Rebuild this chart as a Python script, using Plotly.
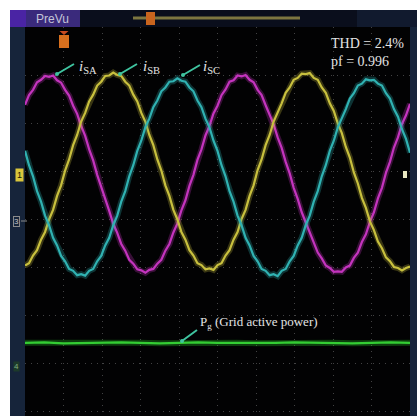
import numpy as np
import plotly.graph_objects as go

# ---- scope record (vertical values in divisions, 10 x 8 division screen) ----
# one mains cycle spans 5 horizontal divisions, sampled 48 times per cycle
SAMPLE_STEP_DIV = 5 / 48

i_sa = [2.38, 2.58, 2.69, 2.85, 2.90, 2.98, 2.96, 2.99, 2.89, 2.84, 2.69, 2.57,
        2.36, 2.19, 1.94, 1.73, 1.45, 1.22, 0.92, 0.68, 0.40, 0.17, -0.10, -0.29,
        -0.52, -0.66, -0.85, -0.93, -1.05, -1.07, -1.12, -1.06, -1.04, -0.93, -0.85, -0.66,
        -0.52, -0.28, -0.09, 0.18, 0.39, 0.69, 0.92, 1.23, 1.45, 1.74, 1.94, 2.20,
        2.36, 2.58, 2.70, 2.86, 2.89, 2.99, 2.97, 3.00, 2.90, 2.85, 2.69, 2.58,
        2.37, 2.17, 1.97, 1.70, 1.48, 1.19, 0.95, 0.65, 0.42, 0.14, -0.07, -0.32,
        -0.49, -0.70, -0.82, -0.97, -1.02, -1.10, -1.09, -1.10, -1.01, -0.97, -0.81, -0.70,
        -0.48, -0.32, -0.06, 0.14, 0.43, 0.65, 0.96, 1.19, 1.49, 1.70, 1.98, 2.16, 2.40]

i_sb = [-0.97, -0.92, -0.76, -0.65, -0.43, -0.27, -0.01, 0.19, 0.48, 0.70, 1.01, 1.24,
        1.54, 1.75, 2.03, 2.21,
        2.45, 2.59, 2.78, 2.86, 2.98, 2.99, 3.05, 3.00, 2.98, 2.86, 2.78, 2.59,
        2.45, 2.21, 2.03, 1.75, 1.54, 1.24, 1.01, 0.70, 0.48, 0.19, -0.01, -0.27,
        -0.43, -0.65, -0.76, -0.92, -0.96, -1.05, -1.03, -1.06, -0.96, -0.92, -0.76, -0.65,
        -0.43, -0.27, 0.00, 0.19, 0.48, 0.70, 1.02, 1.24, 1.54, 1.75, 2.03, 2.21,
        2.41, 2.63, 2.74, 2.90, 2.94, 3.03, 3.02, 3.04, 2.94, 2.90, 2.74, 2.63,
        2.41, 2.25, 1.99, 1.79, 1.50, 1.28, 0.97, 0.74, 0.44, 0.23, -0.05, -0.23,
        -0.47, -0.61, -0.80, -0.88, -1.00, -1.02, -1.07, -1.02, -0.99]

i_sc = [1.42, 1.12, 0.89, 0.58, 0.36, 0.07, -0.13, -0.39, -0.55, -0.77, -0.88, -1.04,
        -1.08, -1.17, -1.15, -1.18, -1.08, -1.04, -0.88, -0.77, -0.55, -0.39, -0.13, 0.07,
        0.36, 0.58, 0.89, 1.12, 1.42, 1.63, 1.91, 2.09,
        2.33, 2.47, 2.66, 2.74, 2.86, 2.87, 2.93, 2.88, 2.86, 2.74, 2.66, 2.47,
        2.33, 2.09, 1.91, 1.63, 1.42, 1.12, 0.89, 0.58, 0.36, 0.07, -0.13, -0.39,
        -0.55, -0.77, -0.88, -1.04, -1.08, -1.17, -1.15, -1.19, -1.08, -1.04, -0.88, -0.77,
        -0.55, -0.39, -0.13, 0.07, 0.36, 0.58, 0.89, 1.12, 1.42, 1.63, 1.91, 2.09,
        2.29, 2.51, 2.62, 2.78, 2.82, 2.91, 2.89, 2.90, 2.82, 2.78, 2.62, 2.51,
        2.29, 2.13, 1.87, 1.67, 1.38]

p_grid_time = [0, 0.5, 1, 1.5, 2, 2.5, 3, 3.5, 4, 4.5, 5, 5.5, 6, 6.5, 7, 7.5,
               8, 8.5, 9, 9.5, 10]
p_grid = [-2.58, -2.57, -2.59, -2.58, -2.58, -2.57, -2.58, -2.59, -2.58, -2.57, -2.58,
          -2.58, -2.59, -2.58, -2.57, -2.58, -2.58, -2.59, -2.58, -2.57, -2.58]

thd_text = "THD = 2.4%"
pf_text = "pf = 0.996"

t = np.arange(len(i_sa)) * SAMPLE_STEP_DIV

W, H = 417, 416
L, R, T, B = 25, 7, 27, 0
PW, PH = W - L - R, H - T - B


def px_x(p):
    return (p - L) / PW


def px_y(p):
    return (H - B - p) / PH


def dx(p):
    return (p - L) / 38.5


def dy(p):
    return (219 - p) / 48


fig = go.Figure()

traces = [
    (i_sa, (196, 52, 190)),
    (i_sb, (200, 192, 62)),
    (i_sc, (48, 178, 178)),
]
for ys, (r, g, b) in traces:
    fig.add_trace(go.Scatter(x=t, y=ys, mode="lines", hoverinfo="skip",
                             line=dict(color=f"rgba({r},{g},{b},0.28)", width=6)))
    fig.add_trace(go.Scatter(x=t, y=ys, mode="lines", hoverinfo="skip",
                             line=dict(color=f"rgb({r},{g},{b})", width=2.2)))

fig.add_trace(go.Scatter(x=p_grid_time, y=p_grid, mode="lines", hoverinfo="skip",
                         line=dict(color="rgba(40,200,40,0.3)", width=6)))
fig.add_trace(go.Scatter(x=p_grid_time, y=p_grid, mode="lines", hoverinfo="skip",
                         line=dict(color="rgb(52,205,52)", width=2.2)))

grid = dict(showgrid=True, gridcolor="rgba(120,120,120,0.55)", gridwidth=1,
            griddash="1px,5px", zeroline=False, showticklabels=False,
            ticks="", showline=False, fixedrange=True)

fig.update_layout(
    width=W, height=H,
    margin=dict(l=L, r=R, t=T, b=B, pad=0),
    paper_bgcolor="white",
    plot_bgcolor="#020203",
    showlegend=False,
    xaxis=dict(range=[0, 10], tick0=0, dtick=1, **grid),
    yaxis=dict(range=[-4.104, 4.0], tick0=0, dtick=1, **grid),
)

frame = "#16243a"
shapes = [
    # top status bar
    dict(x0=px_x(10), x1=px_x(417), y0=px_y(27), y1=px_y(10), fillcolor="#0a0e1c"),
    dict(x0=px_x(357), x1=px_x(417), y0=px_y(27), y1=px_y(10), fillcolor="#111a2e"),
    dict(x0=px_x(10), x1=px_x(80), y0=px_y(27), y1=px_y(10), fillcolor="#3a2a7c"),
    dict(x0=px_x(10), x1=px_x(26), y0=px_y(27), y1=px_y(10), fillcolor="#4a24a4"),
    dict(x0=px_x(133), x1=px_x(300), y0=px_y(19.5), y1=px_y(16.5), fillcolor="#7d7640"),
    dict(x0=px_x(146), x1=px_x(155), y0=px_y(25), y1=px_y(12), fillcolor="#c8641e"),
    # side strips
    dict(x0=px_x(10), x1=px_x(25), y0=px_y(416), y1=px_y(27), fillcolor=frame),
    dict(x0=px_x(410), x1=px_x(417), y0=px_y(416), y1=px_y(27), fillcolor=frame),
    # trigger position marker
    dict(x0=px_x(59), x1=px_x(69), y0=px_y(48), y1=px_y(35), fillcolor="#d8701e"),
    # trigger level marker on the right edge
    dict(x0=px_x(403), x1=px_x(407), y0=px_y(178), y1=px_y(171), fillcolor="#e8e6c0"),
]
for s in shapes:
    fig.add_shape(type="rect", xref="paper", yref="paper", line=dict(width=0), **s)

fig.add_shape(type="path", xref="paper", yref="paper", line=dict(width=0),
              fillcolor="#c84c20",
              path=f"M {px_x(59.5)},{px_y(31)} L {px_x(68.5)},{px_y(31)} "
                   f"L {px_x(64)},{px_y(35)} Z")

# short pointer from channel 3 ground marker
fig.add_shape(type="line", xref="paper", yref="paper",
              x0=px_x(21), x1=px_x(27), y0=px_y(221), y1=px_y(221),
              line=dict(color="#8a8a8a", width=1))

serif = "Liberation Serif"
txt_col = "#e4e4e4"
arrow_col = "#3fc4a0"


def pointer(head_px, tail_px):
    """Short leader line from a label down to its trace."""
    fig.add_shape(type="line", xref="x", yref="y",
                  x0=dx(head_px[0]), y0=dy(head_px[1]),
                  x1=dx(tail_px[0]), y1=dy(tail_px[1]),
                  line=dict(color=arrow_col, width=2))
    fig.add_shape(type="circle", xref="x", yref="y",
                  x0=dx(head_px[0] - 2), x1=dx(head_px[0] + 2),
                  y0=dy(head_px[1] + 2), y1=dy(head_px[1] - 2),
                  fillcolor=arrow_col, line=dict(width=0))


# phase current labels
for name, head, lab_x in [("SA", (57, 74), 77), ("SB", (120, 74), 141), ("SC", (183, 75), 201)]:
    pointer(head, (head[0] + 17, head[1] - 10))
    fig.add_annotation(x=dx(lab_x), y=dy(67), xanchor="left", yanchor="middle",
                       text=f"<i>i</i><sub>{name}</sub>", showarrow=False,
                       font=dict(family=serif, size=15, color=txt_col))

fig.add_annotation(x=dx(329), y=dy(43), xanchor="left", yanchor="middle",
                   text=thd_text, showarrow=False,
                   font=dict(family=serif, size=14, color=txt_col))
fig.add_annotation(x=dx(329), y=dy(61), xanchor="left", yanchor="middle",
                   text=pf_text, showarrow=False,
                   font=dict(family=serif, size=14, color=txt_col))

# grid power label
pointer((182, 341), (197, 330))
fig.add_annotation(x=dx(198), y=dy(322), xanchor="left", yanchor="middle",
                   text="P<sub>g</sub> (Grid active power)", showarrow=False,
                   font=dict(family=serif, size=13, color=txt_col))

# status bar text
fig.add_annotation(x=px_x(52), y=px_y(18.5), xref="paper", yref="paper",
                   xanchor="center", yanchor="middle",
                   text="PreVu", showarrow=False,
                   font=dict(family="Liberation Sans", size=12, color="#c4c4d8"))

# channel ground markers
fig.add_annotation(x=px_x(19), y=px_y(175), xref="paper", yref="paper",
                   xanchor="center", yanchor="middle",
                   text="1", showarrow=False, bgcolor="#d9c63c", borderpad=1,
                   font=dict(family="Liberation Sans", size=9, color="#202000"))
fig.add_annotation(x=px_x(16), y=px_y(221), xref="paper", yref="paper",
                   xanchor="center", yanchor="middle",
                   text="3", showarrow=False, bordercolor="#8a8a8a", borderwidth=1,
                   borderpad=0, font=dict(family="Liberation Sans", size=8, color="#c8c8c8"))
fig.add_annotation(x=px_x(16), y=px_y(366), xref="paper", yref="paper",
                   xanchor="center", yanchor="middle",
                   text="4", showarrow=False, bgcolor="#1d3a2a", borderpad=0,
                   font=dict(family="Liberation Sans", size=8, color="#7faf7f"))

fig.write_html("out.html")
